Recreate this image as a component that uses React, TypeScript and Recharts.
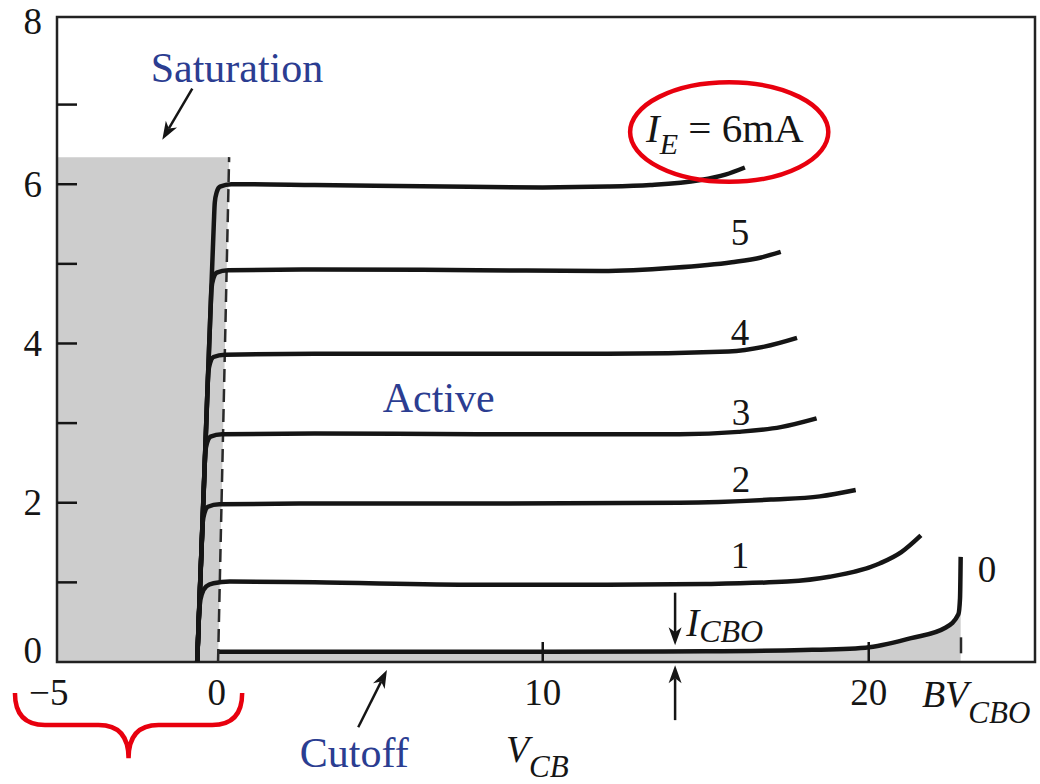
import React from "react";
import {
  ComposedChart,
  Line,
  Area,
  XAxis,
  YAxis,
  ReferenceLine,
  ReferenceDot,
  ReferenceArea,
} from "recharts";

type Pair = [number, number];

const SERIF = '"Liberation Serif", "DejaVu Serif", serif';
const INK = "#151515";
const BLUE = "#2b3d91";
const RED = "#e8000e";
const GREY = "#cdcdcd";

const xTicks = [-5, 0, 10, 20];
const xTickMarks = [10, 20];
const yTicks = [0, 1, 2, 3, 4, 5, 6, 7, 8];
const yLabelled = [0, 2, 4, 6, 8];

// common-base characteristics, [V_CB (V), I_C (mA)]
const ie6: Pair[] = [
  [-0.6, 0], [-0.32, 3], [-0.09, 5.5], [-0.06, 5.77], [0.0, 5.9], [0.1, 5.97], [0.45, 6.0],
  [3, 5.99], [7, 5.97], [10, 5.96], [12, 5.97], [13.3, 5.99], [14.8, 6.05], [15.6, 6.12], [16.2, 6.21],
];
const ie5: Pair[] = [
  [-0.6, 0], [-0.35, 2.7], [-0.19, 4.42], [-0.16, 4.69], [-0.1, 4.82], [0.0, 4.89], [0.35, 4.92],
  [3, 4.93], [8, 4.92], [11.8, 4.91], [14, 4.95], [15.8, 5.02], [16.7, 5.08], [17.3, 5.15],
];
const ie4: Pair[] = [
  [-0.6, 0], [-0.41, 2], [-0.29, 3.36], [-0.26, 3.63], [-0.2, 3.76], [-0.1, 3.83], [0.25, 3.86],
  [3, 3.87], [8, 3.87], [12, 3.87], [15.7, 3.9], [16.8, 3.96], [17.8, 4.07],
];
const ie3: Pair[] = [
  [-0.6, 0], [-0.45, 1.6], [-0.38, 2.36], [-0.35, 2.63], [-0.29, 2.76], [-0.19, 2.83], [0.16, 2.86],
  [3, 2.87], [8, 2.86], [14.2, 2.86], [16, 2.89], [17.3, 2.95], [18.4, 3.06],
];
const ie2: Pair[] = [
  [-0.6, 0], [-0.52, 0.9], [-0.46, 1.48], [-0.43, 1.75], [-0.37, 1.88], [-0.27, 1.95], [0.08, 1.98],
  [3, 1.99], [8, 1.99], [14.2, 2.0], [17, 2.04], [18.5, 2.08], [19.6, 2.16],
];
const ie1: Pair[] = [
  [-0.6, 0], [-0.57, 0.3], [-0.55, 0.55], [-0.52, 0.72], [-0.45, 0.86], [-0.32, 0.95], [-0.1, 0.99],
  [0.4, 1.01], [3, 1.0], [8, 0.97], [12, 0.97], [15, 0.98], [17.5, 1.01], [18.8, 1.07],
  [20.35, 1.24], [21.0, 1.38], [21.6, 1.59],
];
const ie0: Pair[] = [
  [0.02, 0.13], [5, 0.13], [10, 0.13], [15, 0.135], [18, 0.15], [19.9, 0.18], [21.3, 0.3],
  [22.35, 0.43], [22.75, 0.6], [22.8, 0.8], [22.82, 1.32],
];
const saturationRegion: Pair[] = [[-4.9, 6.34], [0.38, 6.34], [0.04, 0]];
const saturationEdge: Pair[] = [[0.04, 0], [0.38, 6.34]];
const breakdownEdge: Pair[] = [[22.83, 0.31], [22.83, 0]];

const curveLabels = [
  { text: "5", v: 16.05, i: 5.39 },
  { text: "4", v: 16.05, i: 4.14 },
  { text: "3", v: 16.08, i: 3.13 },
  { text: "2", v: 16.08, i: 2.29 },
  { text: "1", v: 16.05, i: 1.34 },
  { text: "0", v: 23.63, i: 1.16 },
];
const regionLabels = [
  { text: "Saturation", v: 0.62, i: 7.46 },
  { text: "Active", v: 6.81, i: 3.31 },
  { text: "Cutoff", v: 4.22, i: -1.14 },
];
const subLabels = [
  { main: "I", sub: "E", rest: " = 6mA", v: 13.17, i: 6.53, size: 41, subSize: 30, drop: 12 },
  { main: "I", sub: "CBO", rest: "", v: 14.4, i: 0.33, size: 39, subSize: 32, drop: 6 },
  { main: "V", sub: "CB", rest: "", v: 8.87, i: -1.25, size: 38, subSize: 31, drop: 15 },
  { main: "BV", sub: "CBO", rest: "", v: 21.63, i: -0.565, size: 38, subSize: 31, drop: 16 },
];
const arrows: [Pair, Pair][] = [
  [[-0.75, 7.2], [-1.67, 6.56]],
  [[4.34, -0.82], [5.22, -0.1]],
  [[14.06, 0.87], [14.06, 0.21]],
  [[14.06, -0.73], [14.06, -0.04]],
];
const ellipseBox: Pair[] = [[12.68, 7.28], [18.76, 6.03]];
const braceBox: Pair[] = [[-6.19, -0.39], [0.78, -1.21]];

const pts = (a: Pair[]) => a.map(([v, i]) => ({ v, i }));
const seg = (a: Pair[]) => a.map(([x, y]) => ({ x, y }));

function YTick(p: any) {
  const { x, y, payload } = p;
  const val = payload.value as number;
  const dy = val === 0 ? -12 : val === 8 ? -3 : 0;
  return (
    <g>
      {val > 0 && val < 8 && (
        <line x1={x} x2={x + 20} y1={y} y2={y} stroke={INK} strokeWidth={2.5} />
      )}
      {yLabelled.includes(val) && (
        <text x={x - 15} y={y + dy} textAnchor="end" dominantBaseline="central"
          fontFamily={SERIF} fontSize={37} fill={INK}>
          {val}
        </text>
      )}
    </g>
  );
}

function XTick(p: any) {
  const { x, y, payload } = p;
  const val = payload.value as number;
  return (
    <g>
      {xTickMarks.includes(val) && (
        <line x1={x} x2={x} y1={y} y2={y - 20} stroke={INK} strokeWidth={2.5} />
      )}
      <text x={val < 0 ? x - 5 : x} y={y + 30} textAnchor="middle" dominantBaseline="central"
        fontFamily={SERIF} fontSize={37} fill={INK}>
        {val < 0 ? `\u2212${Math.abs(val)}` : val}
      </text>
    </g>
  );
}

function ArrowShape(p: any) {
  const { x1, y1, x2, y2 } = p;
  const dx = x2 - x1;
  const dy = y2 - y1;
  const len = Math.hypot(dx, dy) || 1;
  const ux = dx / len;
  const uy = dy / len;
  const hl = 18;
  const hw = 6.5;
  const bx = x2 - ux * hl;
  const by = y2 - uy * hl;
  const nx = bx + ux * 5;
  const ny = by + uy * 5;
  return (
    <g>
      <line x1={x1} y1={y1} x2={nx} y2={ny} stroke={INK} strokeWidth={2.5} />
      <polygon
        points={`${x2},${y2} ${bx - uy * hw},${by + ux * hw} ${nx},${ny} ${bx + uy * hw},${by - ux * hw}`}
        fill={INK}
      />
    </g>
  );
}

function EllipseShape(p: any) {
  const { x1, y1, x2, y2 } = p;
  return (
    <ellipse cx={(x1 + x2) / 2} cy={(y1 + y2) / 2} rx={Math.abs(x2 - x1) / 2}
      ry={Math.abs(y2 - y1) / 2} fill="none" stroke={RED} strokeWidth={4.5} />
  );
}

function BraceShape(p: any) {
  const { x1, y1, x2, y2 } = p;
  const mid = (x1 + x2) / 2;
  const yh = y1 + (y2 - y1) * 0.49;
  const d = [
    `M ${x1} ${y1}`,
    `Q ${x1} ${yh} ${x1 + 30} ${yh}`,
    `L ${mid - 30} ${yh}`,
    `Q ${mid} ${yh} ${mid} ${y2}`,
    `Q ${mid} ${yh} ${mid + 30} ${yh}`,
    `L ${x2 - 30} ${yh}`,
    `Q ${x2} ${yh} ${x2} ${y1}`,
  ].join(" ");
  return <path d={d} fill="none" stroke={RED} strokeWidth={4.5} />;
}

const plainText = (text: string, color: string, size: number) => (p: any) => (
  <text x={p.cx} y={p.cy} textAnchor="middle" dominantBaseline="central"
    fontFamily={SERIF} fontSize={size} fill={color}>
    {text}
  </text>
);

const subText = (l: (typeof subLabels)[number]) => (p: any) => (
  <text x={p.cx} y={p.cy} fontFamily={SERIF} fontSize={l.size} fill={INK}>
    <tspan fontStyle="italic">{l.main}</tspan>
    <tspan fontStyle="italic" fontSize={l.subSize} dy={l.drop}>{l.sub}</tspan>
    {l.rest && <tspan dy={-l.drop}>{l.rest}</tspan>}
  </text>
);

export default function App() {
  return (
    <div style={{ position: "absolute", left: 0, top: 0, width: 1040, height: 784, background: "#fff" }}>
      <ComposedChart width={1040} height={784} margin={{ top: 17, right: 5, bottom: 0, left: 0 }}>
        <XAxis type="number" dataKey="v" domain={[-4.9, 25.1]} allowDataOverflow ticks={xTicks}
          interval={0} height={122} axisLine={false} tickLine={false} tickSize={0} tickMargin={0}
          tick={(p: any) => <XTick {...p} />} />
        <YAxis type="number" domain={[0, 8.1]} allowDataOverflow ticks={yTicks} interval={0}
          width={57} axisLine={false} tickLine={false} tickSize={0} tickMargin={0}
          tick={(p: any) => <YTick {...p} />} />

        <Area data={pts(saturationRegion)} dataKey="i" type="linear" fill={GREY} fillOpacity={1}
          stroke="none" isAnimationActive={false} />
        <Area data={pts(ie0)} dataKey="i" type="monotone" fill={GREY} fillOpacity={1}
          stroke={INK} strokeWidth={4.5} isAnimationActive={false} />

        <ReferenceLine segment={seg(saturationEdge)} stroke="#2a2a2a" strokeWidth={2.5}
          strokeDasharray="13 7" ifOverflow="visible" />
        <ReferenceLine segment={seg(breakdownEdge)} stroke="#2a2a2a" strokeWidth={2.5}
          strokeDasharray="16 12" ifOverflow="visible" />

        {[ie6, ie5, ie4, ie3, ie2, ie1].map((c, k) => (
          <Line key={k} data={pts(c)} dataKey="i" type="monotone" stroke={INK} strokeWidth={4.5}
            dot={false} isAnimationActive={false} />
        ))}

        <ReferenceArea x1={-4.9} x2={25.1} y1={0} y2={8.1} fill="none" stroke="#222"
          strokeWidth={2.5} ifOverflow="visible" />

        {arrows.map((a, k) => (
          <ReferenceLine key={`a${k}`} segment={seg(a)} ifOverflow="visible" shape={ArrowShape} />
        ))}
        <ReferenceLine segment={seg(ellipseBox)} ifOverflow="visible" shape={EllipseShape} />
        <ReferenceLine segment={seg(braceBox)} ifOverflow="visible" shape={BraceShape} />

        {curveLabels.map((l) => (
          <ReferenceDot key={`c${l.text}`} x={l.v} y={l.i} r={0} ifOverflow="visible"
            shape={plainText(l.text, INK, 37)} />
        ))}
        {regionLabels.map((l) => (
          <ReferenceDot key={l.text} x={l.v} y={l.i} r={0} ifOverflow="visible"
            shape={plainText(l.text, BLUE, 42)} />
        ))}
        {subLabels.map((l) => (
          <ReferenceDot key={l.main + l.sub} x={l.v} y={l.i} r={0} ifOverflow="visible"
            shape={subText(l)} />
        ))}
      </ComposedChart>
    </div>
  );
}
